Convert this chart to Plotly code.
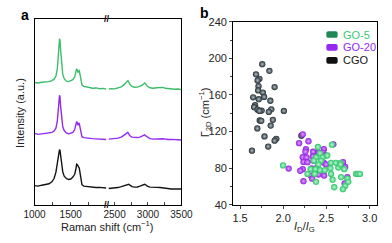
import plotly.graph_objects as go

W, H = 392, 243
def px(x): return x / W
def py(y): return 1 - y / H

# ---------------- Panel a: Raman spectra ----------------
wn_left = [1000, 1050, 1100, 1150, 1200, 1240, 1270, 1295, 1315, 1328, 1338, 1345, 1352, 1360,
           1372, 1390, 1410, 1440, 1470, 1500, 1530, 1555, 1570, 1582, 1592, 1600, 1610, 1618,
           1628, 1640, 1655, 1680, 1720, 1760, 1800, 1850, 1900, 1950, 1990]
wn_right = [2410, 2450, 2500, 2550, 2600, 2640, 2670, 2690, 2700, 2712, 2730, 2760, 2800, 2840,
            2880, 2910, 2935, 2950, 2965, 2990, 3030, 3080, 3130, 3180, 3220, 3260, 3300, 3350,
            3400, 3450, 3500]

go5_left = [128.5, 128, 128.8, 129, 129.5, 130.5, 132, 135, 143, 156, 168, 174.5, 173, 163,
            148, 137, 132.5, 130, 129.5, 130.2, 131.5, 134.5, 139, 143, 141.5, 139, 140.5, 141,
            137, 130, 126, 124.5, 123.5, 123.2, 122.5, 122.8, 122, 122.3, 121.5]
go5_right = [121.5, 122, 121.8, 122.5, 124, 126, 128, 130, 130.5, 129, 126.5, 124.5, 123.5, 123.6,
             124.5, 125.5, 127, 128, 127, 124.5, 123, 122.5, 123, 123.5, 123.4, 122.5, 122, 121.6,
             121.5, 121.7, 121]

go20_left = [75, 74, 74.5, 74.8, 75, 76, 77.5, 80.5, 88, 99, 110, 115, 113.5, 104,
             91, 82, 78, 75.5, 74.5, 75.2, 76, 79, 83, 87.5, 86, 83.5, 85.5, 85.5,
             81.5, 75, 71.5, 70.5, 70, 69.6, 69.5, 69.2, 69, 69.3, 68.5]
go20_right = [69, 69.2, 69.5, 70, 71, 72.5, 74.5, 76, 76, 74.5, 72.5, 71, 70.5, 70.6,
              71, 72, 73, 73.5, 72.5, 71, 69.5, 69, 69.2, 69.5, 69.4, 69, 68.5, 68.7,
              68.5, 68.2, 68]

cgo_left = [20, 19.5, 20.5, 21, 22, 24, 27.5, 34, 44, 52, 56.5, 58, 57, 52,
            43, 34.5, 30, 27.5, 26.5, 27, 29, 32, 37, 42.5, 42, 40, 39.5, 38.5,
            34, 25, 21, 19.5, 19, 18.5, 18.6, 18, 18.2, 17.5, 17.5]
cgo_right = [17, 17.2, 17.5, 18, 19, 20, 21, 21.5, 22, 21.5, 20.5, 19, 18.5, 18.6,
             19.5, 20.5, 21.5, 21.5, 21, 19.5, 18.5, 18, 18.2, 18, 17.5, 17, 17.2, 16.5,
             16.6, 16.5, 16.5]

# ---------------- Panel b: scatter ----------------
cgo_x = [1.757, 1.84, 1.685, 1.725, 1.703, 1.90, 1.714, 1.71, 1.764, 1.652, 1.779, 1.717, 1.851,
         1.674, 1.663, 1.703, 1.75, 1.862, 1.725, 1.833, 2.007, 1.728, 1.88, 1.746, 1.855, 1.70,
         1.783, 1.92, 1.90, 1.826, 1.638, 2.21]
cgo_y = [193.7, 186.4, 182.6, 177.7, 176, 168.7, 169.7, 165, 162.7, 157.5, 157.9, 155.4, 153.7,
         148.8, 146.7, 144, 143, 144.3, 142.6, 141.5, 142.6, 132.1, 132.8, 131.8, 126.5, 123.4,
         114.7, 112, 110, 103.6, 99.1, 115.4]

go20_x = [2.226, 2.183, 2.292, 2.263, 2.256, 2.346, 2.408, 2.47, 2.463, 2.226, 2.27, 2.343, 2.48,
          2.234, 2.281, 2.35, 2.47, 2.495, 2.226, 2.197, 2.328, 2.39, 2.692, 2.717, 2.317, 2.408,
          2.473, 2.234, 2.335, 2.71, 2.742, 2.063, 2.58]
go20_y = [117, 107.3, 109.4, 100.7, 97.9, 97.9, 96.9, 100.7, 96.9, 92, 91.7, 92.7, 93.8,
          86.8, 86.5, 88.2, 85.8, 84.1, 78.9, 77.1, 79.6, 80.6, 86.5, 81.3, 71.9, 73,
          71.9, 65.7, 68.5, 63.3, 70.2, 79.5, 106]

go5_x = [1.998, 2.401, 2.564, 2.426, 2.379, 2.455, 2.51, 2.354, 2.437, 2.408, 2.553, 2.608, 2.662,
         2.317, 2.372, 2.426, 2.48, 2.546, 2.637, 2.662, 2.706, 2.281, 2.364, 2.553, 2.669, 2.742,
         2.844, 2.862, 2.887, 2.571, 2.379, 2.717, 2.59, 2.691, 2.753]
go5_y = [83, 103.1, 105.6, 96.2, 91.7, 91.7, 93.8, 88.2, 88.2, 84.1, 85.8, 85.8, 85.8,
         78.9, 78.9, 77.8, 77.8, 79.9, 80.6, 84.1, 78.9, 73.7, 73.7, 73.7, 70.2, 68.5,
         73.7, 73.7, 73.7, 67.4, 65, 60.5, 59.1, 57, 65]

legend_names = ["GO-5", "GO-20", "CGO"]

GREEN = "rgb(58,190,105)"
PURPLE = "rgb(150,40,240)"
BLACK = "rgb(20,20,20)"

fig = go.Figure()
for yl, yr, c in [(go5_left, go5_right, GREEN), (go20_left, go20_right, PURPLE), (cgo_left, cgo_right, BLACK)]:
    fig.add_trace(go.Scatter(x=wn_left, y=yl, mode="lines", line=dict(color=c, width=1.4),
                             xaxis="x", yaxis="y", showlegend=False))
    fig.add_trace(go.Scatter(x=wn_right, y=yr, mode="lines", line=dict(color=c, width=1.4),
                             xaxis="x2", yaxis="y2", showlegend=False))

def sphere(xs, ys, edge, center):
    return go.Scatter(x=xs, y=ys, mode="markers", xaxis="x3", yaxis="y3", showlegend=False,
                      marker=dict(size=6.3, color=edge, line=dict(width=0),
                                  gradient=dict(type="radial", color=center)))

fig.add_trace(sphere(cgo_x, cgo_y, "rgb(35,45,50)", "rgb(175,190,195)"))
fig.add_trace(sphere(go20_x, go20_y, "rgb(145,30,225)", "rgb(225,165,255)"))
fig.add_trace(sphere(go5_x, go5_y, "rgb(45,195,105)", "rgb(185,250,210)"))

FONT = "Liberation Sans, Arial, sans-serif"
ax_common = dict(showgrid=False, zeroline=False, showline=True, linecolor="black", linewidth=1)

fig.update_layout(
    width=W, height=H, margin=dict(l=0, r=0, t=0, b=0), autosize=False,
    paper_bgcolor="white", plot_bgcolor="white",
    font=dict(family=FONT, color="#222"),
    xaxis=dict(**ax_common, domain=[px(25), px(101.5)], range=[1000, 1995], anchor="y",
               mirror=True, ticks="inside", ticklen=3, tick0=1000, dtick=500,
               tickfont=dict(size=10), minor=dict(ticks="inside", ticklen=3, dtick=250, tick0=1000)),
    xaxis2=dict(**ax_common, domain=[px(103.5), px(181)], range=[2408, 3500], anchor="y2",
                mirror=True, ticks="inside", ticklen=3, tick0=2500, dtick=500,
                tickfont=dict(size=10), minor=dict(ticks="inside", ticklen=3, dtick=250, tick0=2500)),
    yaxis=dict(**ax_common, domain=[py(209), py(14)], range=[0, 195], anchor="x",
               showticklabels=False, ticks=""),
    yaxis2=dict(**ax_common, domain=[py(209), py(14)], range=[0, 195], anchor="x2", side="right",
                showticklabels=False, ticks=""),
    xaxis3=dict(**ax_common, domain=[px(236), px(389)], range=[1.4205, 3.087], anchor="y3",
                mirror=True, ticks="outside", ticklen=3, tick0=1.5, dtick=0.5, tickformat=".1f",
                tickfont=dict(size=11),
                minor=dict(ticks="outside", ticklen=2, dtick=0.25, tick0=1.5)),
    yaxis3=dict(**ax_common, domain=[py(209), py(16.7)], range=[40, 240], anchor="x3",
                mirror=True, ticks="outside", ticklen=3, tick0=40, dtick=40,
                tickfont=dict(size=11),
                minor=dict(ticks="outside", ticklen=2, dtick=20, tick0=40)),
)

def A(text, x, y, size=11, color="#222", angle=0, xanchor="center"):
    return dict(text=text, x=px(x), y=py(y), xref="paper", yref="paper", showarrow=False,
                xanchor=xanchor, yanchor="middle", textangle=angle,
                font=dict(size=size, color=color, family=FONT))

ann = []
ann.append(A("<b>a</b>", 15, 9, size=14, color="black"))
ann.append(A("<b>b</b>", 206, 7, size=14, color="black"))
for yy in (14, 209):
    ann.append(A("<b>//</b>", 102.5, yy, size=9, color="black"))
ann.append(A("Intensity (a.u.)", 10, 112, angle=-90))
ann.append(A("Raman shift (cm<sup>−1</sup>)", 103, 231))
ann.append(A("Γ<sub>2D</sub> (cm<sup>−1</sup>)", 207, 112, angle=-90))
ann.append(A("<i>I</i><sub>D</sub>/<i>I</i><sub>G</sub>", 312, 232))

# legend (manual)
leg_box = ["rgb(30,135,85)", "rgb(150,40,240)", "rgb(15,15,15)"]
leg_txt = ["rgb(60,200,110)", "rgb(150,40,240)", "rgb(20,20,20)"]
shapes = []
def rrect(x0, y0, x1, y1, r):
    X0, X1 = px(x0), px(x1)
    return (f"M {px(x0+r)},{py(y0)} L {px(x1-r)},{py(y0)} Q {X1},{py(y0)} {X1},{py(y0+r)} "
            f"L {X1},{py(y1-r)} Q {X1},{py(y1)} {px(x1-r)},{py(y1)} L {px(x0+r)},{py(y1)} "
            f"Q {X0},{py(y1)} {X0},{py(y1-r)} L {X0},{py(y0+r)} Q {X0},{py(y0)} {px(x0+r)},{py(y0)} Z")
for i, name in enumerate(legend_names):
    yc = 30 + i * 13.6
    shapes.append(dict(type="path", xref="paper", yref="paper", path=rrect(335, yc - 3.5, 347, yc + 3.5, 2),
                       fillcolor=leg_box[i], line=dict(width=0)))
    ann.append(A(name, 351, yc, color=leg_txt[i], xanchor="left"))

fig.update_layout(annotations=ann, shapes=shapes)
fig.write_html("out.html", config={"responsive": False, "displayModeBar": False},
               post_script="document.body.style.margin='0';document.body.style.overflow='hidden';")
